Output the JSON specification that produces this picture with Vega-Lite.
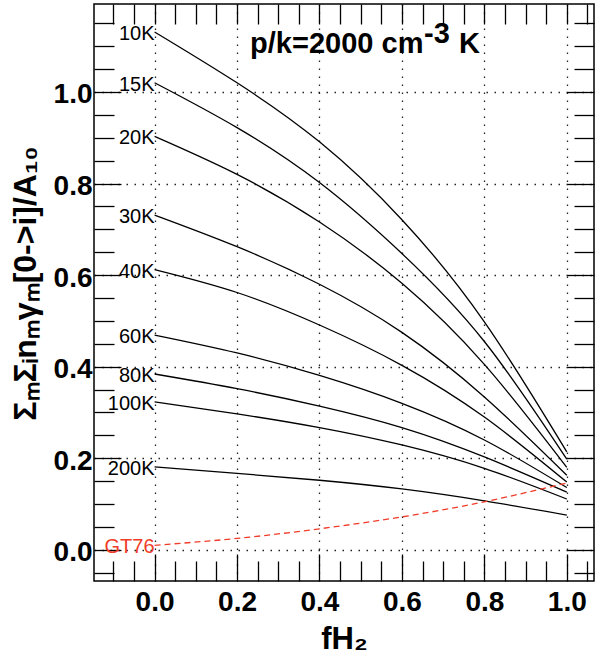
{
  "$schema": "https://vega.github.io/schema/vega-lite/v6.json",
  "width": 500,
  "height": 577,
  "autosize": {"type": "none"},
  "padding": {"left": 94, "top": 4, "right": 17, "bottom": 81},
  "background": "white",
  "config": {
    "view": {"stroke": "#000", "strokeWidth": 1.5},
    "font": "Liberation Sans",
    "axis": {"domain": false, "labelFont": "Liberation Sans", "titleFont": "Liberation Sans", "tickColor": "#000", "tickWidth": 1.3, "labelColor": "#000", "titleColor": "#000"}
  },
  "datasets": {
    "curves": [
      {"s": "10K", "x": 0, "y": 1.131}, {"s": "10K", "x": 0.2, "y": 1.02}, {"s": "10K", "x": 0.4, "y": 0.891}, {"s": "10K", "x": 0.6, "y": 0.721}, {"s": "10K", "x": 0.8, "y": 0.498}, {"s": "10K", "x": 1.0, "y": 0.214},
      {"s": "15K", "x": 0, "y": 1.02}, {"s": "15K", "x": 0.2, "y": 0.922}, {"s": "15K", "x": 0.4, "y": 0.802}, {"s": "15K", "x": 0.6, "y": 0.647}, {"s": "15K", "x": 0.8, "y": 0.455}, {"s": "15K", "x": 1.0, "y": 0.198},
      {"s": "20K", "x": 0, "y": 0.903}, {"s": "20K", "x": 0.2, "y": 0.82}, {"s": "20K", "x": 0.4, "y": 0.716}, {"s": "20K", "x": 0.6, "y": 0.582}, {"s": "20K", "x": 0.8, "y": 0.405}, {"s": "20K", "x": 1.0, "y": 0.18},
      {"s": "30K", "x": 0, "y": 0.731}, {"s": "30K", "x": 0.2, "y": 0.662}, {"s": "30K", "x": 0.4, "y": 0.58}, {"s": "30K", "x": 0.6, "y": 0.475}, {"s": "30K", "x": 0.8, "y": 0.334}, {"s": "30K", "x": 1.0, "y": 0.163},
      {"s": "40K", "x": 0, "y": 0.612}, {"s": "40K", "x": 0.2, "y": 0.562}, {"s": "40K", "x": 0.4, "y": 0.491}, {"s": "40K", "x": 0.6, "y": 0.403}, {"s": "40K", "x": 0.8, "y": 0.29}, {"s": "40K", "x": 1.0, "y": 0.148},
      {"s": "60K", "x": 0, "y": 0.469}, {"s": "60K", "x": 0.2, "y": 0.43}, {"s": "60K", "x": 0.4, "y": 0.381}, {"s": "60K", "x": 0.6, "y": 0.32}, {"s": "60K", "x": 0.8, "y": 0.24}, {"s": "60K", "x": 1.0, "y": 0.136},
      {"s": "80K", "x": 0, "y": 0.384}, {"s": "80K", "x": 0.2, "y": 0.352}, {"s": "80K", "x": 0.4, "y": 0.314}, {"s": "80K", "x": 0.6, "y": 0.267}, {"s": "80K", "x": 0.8, "y": 0.203}, {"s": "80K", "x": 1.0, "y": 0.126},
      {"s": "100K", "x": 0, "y": 0.323}, {"s": "100K", "x": 0.2, "y": 0.297}, {"s": "100K", "x": 0.4, "y": 0.267}, {"s": "100K", "x": 0.6, "y": 0.229}, {"s": "100K", "x": 0.8, "y": 0.178}, {"s": "100K", "x": 1.0, "y": 0.111},
      {"s": "200K", "x": 0, "y": 0.181}, {"s": "200K", "x": 0.2, "y": 0.167}, {"s": "200K", "x": 0.4, "y": 0.152}, {"s": "200K", "x": 0.6, "y": 0.133}, {"s": "200K", "x": 0.8, "y": 0.107}, {"s": "200K", "x": 1.0, "y": 0.076}
    ],
    "gt": [
      {"s": "GT76", "x": 0, "y": 0.01}, {"s": "GT76", "x": 0.2, "y": 0.025}, {"s": "GT76", "x": 0.4, "y": 0.046}, {"s": "GT76", "x": 0.6, "y": 0.072}, {"s": "GT76", "x": 0.8, "y": 0.105}, {"s": "GT76", "x": 1.0, "y": 0.146}
    ],
    "labels": [
      {"t": "10K", "x": 0, "y": 1.131}, {"t": "15K", "x": 0, "y": 1.02}, {"t": "20K", "x": 0, "y": 0.903}, {"t": "30K", "x": 0, "y": 0.731}, {"t": "40K", "x": 0, "y": 0.612}, {"t": "60K", "x": 0, "y": 0.469}, {"t": "80K", "x": 0, "y": 0.384}, {"t": "100K", "x": 0, "y": 0.323}, {"t": "200K", "x": 0, "y": 0.181}
    ],
    "gtlabel": [{"t": "GT76", "x": 0, "y": 0.01}],
    "title": [
      {"t": "p/k=2000 cm", "x": 0.2317, "y": 1.085}, {"t": "-3", "x": 0.6538, "y": 1.107}, {"t": "K", "x": 0.7387, "y": 1.085}
    ]
  },
  "layer": [
    {
      "data": {"name": "curves"},
      "mark": {"type": "line", "color": "#000", "strokeWidth": 1.3, "interpolate": "natural"},
      "encoding": {
        "x": {"field": "x", "type": "quantitative", "scale": {"domain": [-0.147, 1.066], "nice": false, "zero": false},
          "axis": {"orient": "bottom", "values": [0, 0.2, 0.4, 0.6, 0.8, 1.0], "format": ".1f", "ticks": false, "labelFontSize": 28, "labelFontWeight": "bold", "labelPadding": 7, "labelFlush": false, "labelOverlap": false,
            "grid": true, "gridColor": "#222", "gridDash": [1.5, 6.5], "gridWidth": 1.3, "title": "fH₂", "titleFontSize": 31, "titleFontWeight": "bold", "titlePadding": 8}},
        "y": {"field": "y", "type": "quantitative", "scale": {"domain": [-0.068, 1.192], "nice": false, "zero": false},
          "axis": {"orient": "left", "values": [0, 0.2, 0.4, 0.6, 0.8, 1.0], "format": ".1f", "ticks": false, "labelFontSize": 28, "labelFontWeight": "bold", "labelPadding": 2, "labelOffset": 3, "labelFlush": false, "labelOverlap": false,
            "grid": true, "gridColor": "#222", "gridDash": [1.5, 6.5], "gridWidth": 1.3, "title": "ΣₘΣᵢnₘγₘ[0->i]/A₁₀", "titleFontSize": 32, "titleFontWeight": "bold", "titlePadding": 11, "titleY": 279}},
        "detail": {"field": "s", "type": "nominal"}
      }
    },
    {
      "data": {"name": "gt"},
      "mark": {"type": "line", "color": "#f03c28", "strokeWidth": 1.3, "strokeDash": [6, 4], "interpolate": "natural"},
      "encoding": {
        "x": {"field": "x", "type": "quantitative", "scale": {"domain": [-0.147, 1.066], "nice": false, "zero": false},
          "axis": {"orient": "bottom", "values": [0, 0.2, 0.4, 0.6, 0.8, 1.0], "labels": false, "grid": false, "tickSize": -27, "title": null}},
        "y": {"field": "y", "type": "quantitative", "scale": {"domain": [-0.068, 1.192], "nice": false, "zero": false},
          "axis": {"orient": "left", "values": [0, 0.2, 0.4, 0.6, 0.8, 1.0], "labels": false, "grid": false, "tickSize": -27, "title": null}}
      }
    },
    {
      "data": {"name": "labels"},
      "mark": {"type": "text", "align": "right", "baseline": "middle", "dy": 2, "fontSize": 20, "font": "Liberation Sans", "color": "#000"},
      "encoding": {
        "text": {"field": "t", "type": "nominal"},
        "x": {"field": "x", "type": "quantitative", "scale": {"domain": [-0.147, 1.066], "nice": false, "zero": false},
          "axis": {"orient": "bottom", "values": [-0.1, -0.05, 0.05, 0.1, 0.15, 0.25, 0.3, 0.35, 0.45, 0.5, 0.55, 0.65, 0.7, 0.75, 0.85, 0.9, 0.95, 1.05], "labels": false, "grid": false, "tickSize": -20, "title": null}},
        "y": {"field": "y", "type": "quantitative", "scale": {"domain": [-0.068, 1.192], "nice": false, "zero": false},
          "axis": {"orient": "left", "values": [-0.05, 0.05, 0.1, 0.15, 0.25, 0.3, 0.35, 0.45, 0.5, 0.55, 0.65, 0.7, 0.75, 0.85, 0.9, 0.95, 1.05, 1.1, 1.15], "labels": false, "grid": false, "tickSize": -20, "title": null}}
      }
    },
    {
      "data": {"name": "gtlabel"},
      "mark": {"type": "text", "align": "right", "baseline": "middle", "dy": 2, "fontSize": 20, "font": "Liberation Sans", "color": "#f03c28"},
      "encoding": {
        "text": {"field": "t", "type": "nominal"},
        "x": {"field": "x", "type": "quantitative", "scale": {"domain": [-0.147, 1.066], "nice": false, "zero": false},
          "axis": {"orient": "top", "values": [-0.1, -0.05, 0, 0.05, 0.1, 0.15, 0.2, 0.25, 0.3, 0.35, 0.4, 0.45, 0.5, 0.55, 0.6, 0.65, 0.7, 0.75, 0.8, 0.85, 0.9, 0.95, 1.0, 1.05], "labels": false, "grid": false, "tickSize": -20, "title": null}},
        "y": {"field": "y", "type": "quantitative", "scale": {"domain": [-0.068, 1.192], "nice": false, "zero": false},
          "axis": {"orient": "right", "values": [0, 0.2, 0.4, 0.6, 0.8, 1.0], "labels": false, "grid": false, "tickSize": -27, "title": null}}
      }
    },
    {
      "data": {"name": "title"},
      "mark": {"type": "text", "align": "left", "baseline": "alphabetic", "fontSize": 29, "fontWeight": "bold", "font": "Liberation Sans", "color": "#000"},
      "encoding": {
        "text": {"field": "t", "type": "nominal"},
        "x": {"field": "x", "type": "quantitative", "scale": {"domain": [-0.147, 1.066], "nice": false, "zero": false}, "axis": null},
        "y": {"field": "y", "type": "quantitative", "scale": {"domain": [-0.068, 1.192], "nice": false, "zero": false},
          "axis": {"orient": "right", "values": [-0.05, 0.05, 0.1, 0.15, 0.25, 0.3, 0.35, 0.45, 0.5, 0.55, 0.65, 0.7, 0.75, 0.85, 0.9, 0.95, 1.05, 1.1, 1.15], "labels": false, "grid": false, "tickSize": -20, "title": null}}
      }
    }
  ],
  "resolve": {"axis": {"x": "independent", "y": "independent"}}
}
